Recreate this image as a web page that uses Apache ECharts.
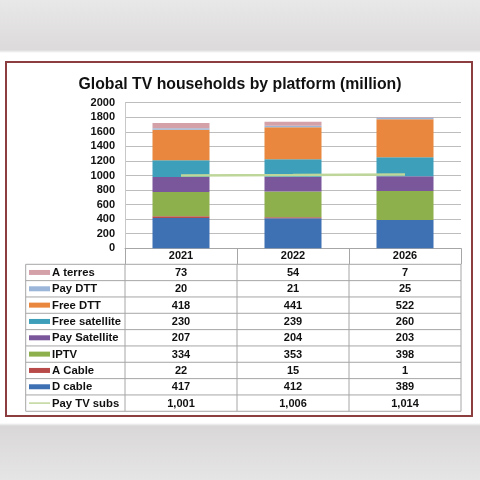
<!DOCTYPE html>
<html>
<head>
<meta charset="utf-8">
<script src="https://cdn.jsdelivr.net/npm/echarts@6/dist/echarts.min.js"></script>
<style>
html,body{margin:0;padding:0;width:480px;height:480px;overflow:hidden;}
body{background:linear-gradient(to bottom,#e9e8e8 0px,#dcdada 50px,#ffffff 53px,#ffffff 423px,#d9d7d7 426px,#e6e5e5 480px);position:relative;font-family:"Liberation Sans",Arial,sans-serif;}
#frame{position:absolute;left:5px;top:61px;width:464px;height:352px;border:2px solid #8c3d3f;background:#fff;}
#chart{position:absolute;left:0;top:0;width:480px;height:480px;}
</style>
</head>
<body>
<div id="frame"></div>
<div id="chart"></div>
<script>
// ---- data ----
const years = ['2021', '2022', '2026'];
const dCable = [417, 412, 389];
const aCable = [22, 15, 1];
const iptv = [334, 353, 398];
const paySatellite = [207, 204, 203];
const freeSatellite = [230, 239, 260];
const freeDtt = [418, 441, 522];
const payDtt = [20, 21, 25];
const aTerres = [73, 54, 7];
const payTvSubs = [1001, 1006, 1014];
const yTicks = [0, 200, 400, 600, 800, 1000, 1200, 1400, 1600, 1800, 2000];

// ---- styling / layout ----
const stackSeries = [
  {name: 'D cable', data: dCable, color: '#3e70b4'},
  {name: 'A Cable', data: aCable, color: '#b94a4a'},
  {name: 'IPTV', data: iptv, color: '#8db04c'},
  {name: 'Pay Satellite', data: paySatellite, color: '#7a579b'},
  {name: 'Free satellite', data: freeSatellite, color: '#3d9fb9'},
  {name: 'Free DTT', data: freeDtt, color: '#e8873d'},
  {name: 'Pay DTT', data: payDtt, color: '#9bb6d9'},
  {name: 'A terres', data: aTerres, color: '#d4a1a9'}
];
const lineColor = '#bfd69b';

const gridLeft = 125, gridRight = 461, gridTop = 102.7, gridBottom = 248.3;
const tableTop = 264.3, rowH = 16.33, labelLeft = 25.7;
const colW = (gridRight - gridLeft) / years.length;
const borderColor = '#a6a6a6';
const font = '"Liberation Sans", Arial, sans-serif';

const chart = echarts.init(document.getElementById('chart'), null, {renderer: 'canvas'});

const series = stackSeries.map(s => ({
  name: s.name, type: 'bar', stack: 'total', data: s.data,
  barWidth: 57, itemStyle: {color: s.color}, z: 2
}));
series.push({
  name: 'Pay TV subs', type: 'line', data: payTvSubs, symbol: 'none',
  lineStyle: {color: lineColor, width: 2.4}, itemStyle: {color: lineColor}, z: 5
});

// table rows (top to bottom)
const rows = stackSeries.slice().reverse().map(s => ({name: s.name, data: s.data, color: s.color, kind: 'bar'}));
rows.push({name: 'Pay TV subs', data: payTvSubs, color: lineColor, kind: 'line'});

const graphics = [];
const tableBottom = tableTop + rows.length * rowH;
for (let i = 0; i <= rows.length; i++) {
  const y = tableTop + i * rowH;
  graphics.push({type: 'line', shape: {x1: labelLeft, y1: y, x2: gridRight, y2: y}, style: {stroke: borderColor, lineWidth: 1}, silent: true});
}
const vx = [labelLeft];
for (let j = 0; j <= years.length; j++) vx.push(gridLeft + j * colW);
vx.forEach(x => graphics.push({type: 'line', shape: {x1: x, y1: tableTop, x2: x, y2: tableBottom}, style: {stroke: borderColor, lineWidth: 1}, silent: true}));

rows.forEach((r, i) => {
  const cy = tableTop + i * rowH + rowH / 2;
  if (r.kind === 'bar') {
    graphics.push({type: 'rect', shape: {x: 29, y: cy - 2.5, width: 21, height: 5}, style: {fill: r.color}, silent: true});
  } else {
    graphics.push({type: 'line', shape: {x1: 29, y1: cy, x2: 50, y2: cy}, style: {stroke: r.color, lineWidth: 1.5}, silent: true});
  }
  graphics.push({type: 'text', x: 52, y: cy + 0.5, style: {text: r.name, fill: '#111', font: 'bold 11.3px ' + font, textAlign: 'left', textVerticalAlign: 'middle'}, silent: true});
  r.data.forEach((v, j) => {
    graphics.push({type: 'text', x: gridLeft + (j + 0.5) * colW, y: cy + 0.5, style: {text: v.toLocaleString('en-US'), fill: '#111', font: 'bold 11px ' + font, textAlign: 'center', textVerticalAlign: 'middle'}, silent: true});
  });
});

chart.setOption({
  animation: false,
  backgroundColor: 'transparent',
  title: {
    text: 'Global TV households by platform (million)',
    left: 'center', top: 72,
    textStyle: {fontFamily: font, fontWeight: 'bold', fontSize: 15.8, color: '#111'}
  },
  grid: {left: gridLeft, right: 480 - gridRight, top: gridTop, bottom: 480 - gridBottom, containLabel: false},
  xAxis: {
    type: 'category', data: years,
    axisLine: {show: true, lineStyle: {color: borderColor, width: 1}},
    axisTick: {show: true, length: 16, lineStyle: {color: borderColor, width: 1}},
    axisLabel: {margin: 2, fontFamily: font, fontWeight: 'bold', fontSize: 11, color: '#111'}
  },
  yAxis: {
    type: 'value', min: yTicks[0], max: yTicks[yTicks.length - 1], interval: yTicks[1] - yTicks[0],
    axisLine: {show: true, lineStyle: {color: '#c8c8c8'}},
    axisTick: {show: false},
    splitLine: {lineStyle: {color: '#bdbdbd', width: 1}},
    axisLabel: {margin: 10, fontFamily: font, fontWeight: 'bold', fontSize: 11, color: '#111', formatter: v => String(v)}
  },
  series: series,
  graphic: graphics
});
</script>
</body>
</html>
